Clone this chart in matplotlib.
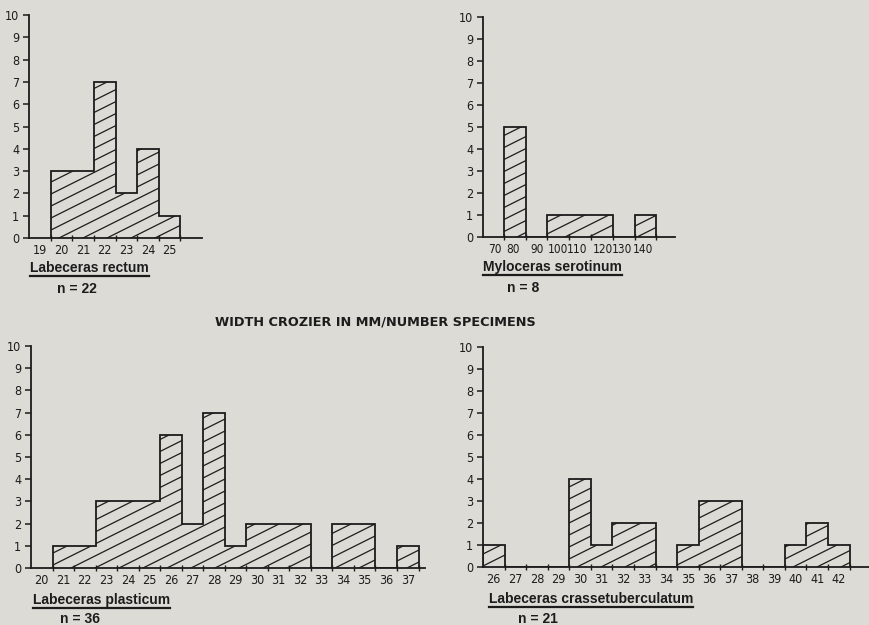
import numpy as np
import matplotlib.pyplot as plt
from matplotlib.collections import LineCollection
from matplotlib.transforms import IdentityTransform
from matplotlib.lines import Line2D

# width crozier (mm) -> number of specimens
rectum_width = [20, 21, 22, 23, 24, 25]
rectum_count = [3, 3, 7, 2, 4, 1]
rectum_ticks = [19, 20, 21, 22, 23, 24, 25]

serotinum_width = [80, 90, 100, 110, 120, 130, 140]
serotinum_count = [5, 0, 1, 1, 1, 0, 1]
serotinum_ticks = [70, 80, 90, 100, 110, 120, 130, 140]

plasticum_width = list(range(21, 38))
plasticum_count = [1, 1, 3, 3, 3, 6, 2, 7, 1, 2, 2, 2, 0, 2, 2, 0, 1]
plasticum_ticks = list(range(20, 38))

crasse_width = list(range(26, 43))
crasse_count = [1, 0, 0, 0, 4, 1, 2, 2, 0, 1, 3, 3, 0, 0, 1, 2, 1]
crasse_ticks = list(range(26, 43))

BG = '#dcdbd5'
INK = '#1c1c1c'
W, H = 869, 625
TICK_FONT = ['DejaVu Sans']
LABEL_FONT = ['Liberation Sans', 'DejaVu Sans']

fig = plt.figure(figsize=(W / 100, H / 100), dpi=100, facecolor=BG)


def px_rect(x0, x1, y0, y10):
    return [x0 / W, 1 - y0 / H, (x1 - x0) / W, (y0 - y10) / H]


def hatch(ax, patch, slope=0.5, step=12.0):
    # shallow diagonal lines in pixel space, clipped to the histogram outline
    cs = np.arange(-slope * W, H + step, step)
    segs = [[(0, c), (W, c + slope * W)] for c in cs]
    lc = LineCollection(segs, colors=INK, linewidths=0.9, transform=IdentityTransform())
    ax.add_collection(lc, autolim=False)
    lc.set_clip_path(patch)


def panel(rect, centers, counts, binw, xlim, ticks, label_x=None, xsize=9):
    ax = fig.add_axes(rect)
    ax.set_facecolor('none')
    centers = np.asarray(centers, float)
    edges = np.append(centers - binw / 2, centers[-1] + binw / 2)
    sp = ax.stairs(counts, edges, baseline=0, fill=False, edgecolor=INK, linewidth=1.3)
    hatch(ax, sp)
    ax.set_xlim(*xlim)
    ax.set_ylim(0, 10)
    for s in ['top', 'right']:
        ax.spines[s].set_visible(False)
    for s in ['left', 'bottom']:
        ax.spines[s].set_linewidth(1.3)
        ax.spines[s].set_color(INK)
    ax.set_yticks(range(0, 11))
    ax.tick_params(axis='y', direction='out', length=4, width=1.1, pad=3,
                   colors=INK, labelsize=9)
    ax.set_xticks(label_x if label_x is not None else ticks)
    ax.set_xticklabels([str(t) for t in ticks])
    ax.tick_params(axis='x', which='major', length=0, pad=4, colors=INK, labelsize=xsize)
    all_edges = np.arange(edges[0] - binw * 20, edges[-1] + binw * 20, binw)
    all_edges = all_edges[(all_edges > xlim[0] + 1e-6) & (all_edges < xlim[1])]
    ax.set_xticks(all_edges, minor=True)
    ax.tick_params(axis='x', which='minor', direction='inout', length=5, width=1.0, colors=INK)
    for lab in ax.get_xticklabels() + ax.get_yticklabels():
        lab.set_family(TICK_FONT)
        lab.set_fontstretch('condensed')
    return ax


panel(px_rect(29, 202, 238, 15), rectum_width, rectum_count, 1, (18.5, 26.5), rectum_ticks)
panel(px_rect(483, 675, 237, 17), serotinum_width, serotinum_count, 10, (65.5, 153.5),
      serotinum_ticks, label_x=[71, 79.3, 90.2, 100.0, 108.8, 120.3, 129.2, 138.8], xsize=8.5)
panel(px_rect(31, 425, 568, 346), plasticum_width, plasticum_count, 1, (19.5, 37.8),
      plasticum_ticks)
panel(px_rect(483, 869, 567, 347), crasse_width, crasse_count, 1, (25.5, 43.4), crasse_ticks)


def ftext(x, y, s, ha='left', underline=False, size=10, family=LABEL_FONT, **kw):
    t = fig.text(x / W, 1 - y / H, s, ha=ha, va='center', fontsize=size,
                 family=family, weight='bold', color=INK, **kw)
    if underline:
        fig.canvas.draw()
        bb = t.get_window_extent()
        yl = bb.y0 - 1
        fig.add_artist(Line2D([bb.x0, bb.x1], [yl, yl], color=INK, linewidth=1.6,
                              transform=IdentityTransform()))
    return t


ftext(30, 268, 'Labeceras rectum', underline=True)
ftext(77, 289, 'n = 22', ha='center')
ftext(483, 267, 'Myloceras serotinum', underline=True)
ftext(523, 288, 'n = 8', ha='center')
ftext(215, 322, 'WIDTH CROZIER IN MM/NUMBER SPECIMENS', size=9.3, family=['DejaVu Sans'])
ftext(33, 600, 'Labeceras plasticum', underline=True)
ftext(80, 619, 'n = 36', ha='center')
ftext(489, 599, 'Labeceras crassetuberculatum', underline=True)
ftext(538, 619, 'n = 21', ha='center')

fig.savefig('out.png', dpi=100, facecolor=BG)
